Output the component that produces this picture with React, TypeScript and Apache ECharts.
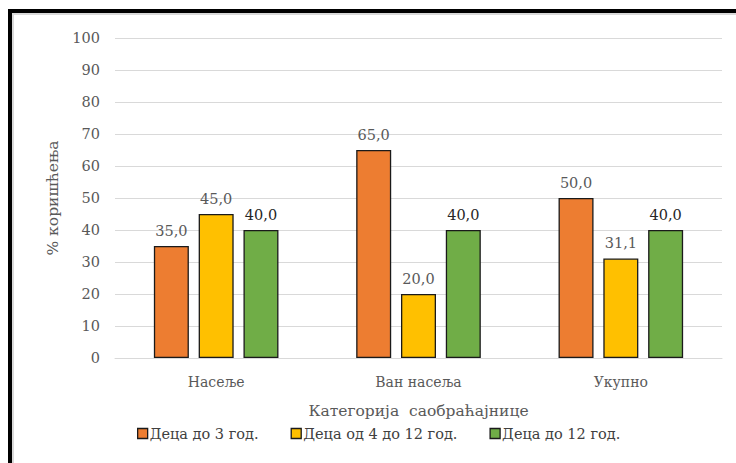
import React, { useEffect, useRef } from "react";
import * as echarts from "echarts";

const categories = ["Насеље", "Ван насеља", "Укупно"];
const seriesNames = ["Деца до 3 год.", "Деца од 4 до 12 год.", "Деца до 12 год."];
const under3 = [35.0, 65.0, 50.0];
const from4to12 = [45.0, 20.0, 31.1];
const upTo12 = [40.0, 40.0, 40.0];
const colors = ["#ED7D31", "#FFC000", "#70AD47"];
const labelColors = ["#595959", "#595959", "#262626"];

const FONT = "'DejaVu Serif', serif";

export default function App() {
  const ref = useRef<HTMLDivElement>(null);
  useEffect(() => {
    if (!ref.current) return;
    const chart = echarts.init(ref.current, undefined, { renderer: "svg" });
    const data = [under3, from4to12, upTo12];
    chart.setOption({
      animation: false,
      backgroundColor: "#ffffff",
      textStyle: { fontFamily: FONT },
      grid: { left: 115, right: 14, top: 38, bottom: 105 },
      legend: {
        bottom: 17,
        left: 132,
        itemWidth: 10,
        itemHeight: 10,
        itemGap: 32,
        icon: "rect",
        itemStyle: { borderColor: "#1a1a1a", borderWidth: 1.3 },
        textStyle: { fontFamily: FONT, fontSize: 14.5, color: "#404040", padding: [0, 0, 0, -3] },
        data: seriesNames,
      },
      xAxis: {
        type: "category",
        data: categories,
        name: "Категорија  саобраћајнице",
        nameLocation: "middle",
        nameGap: 45,
        nameTextStyle: { fontFamily: FONT, fontSize: 15.5, color: "#595959" },
        axisLine: { lineStyle: { color: "#D9D9D9" } },
        axisTick: { show: false },
        axisLabel: { fontFamily: FONT, fontSize: 14, color: "#595959", margin: 17 },
      },
      yAxis: {
        type: "value",
        min: 0,
        max: 100,
        interval: 10,
        name: "% коришћења",
        nameLocation: "middle",
        nameGap: 52,
        nameRotate: 90,
        nameTextStyle: { fontFamily: FONT, fontSize: 15.5, color: "#595959" },
        axisLine: { show: false },
        axisTick: { show: false },
        splitLine: { lineStyle: { color: "#D9D9D9" } },
        axisLabel: { fontFamily: FONT, fontSize: 14.5, color: "#595959", margin: 15 },
      },
      series: seriesNames.map((name, i) => ({
        name,
        type: "bar",
        data: data[i],
        barWidth: 35,
        barGap: "28%",
        itemStyle: { color: colors[i], borderColor: "#1a1a1a", borderWidth: 1.3 },
        label: {
          show: true,
          position: "top",
          distance: 8,
          fontFamily: FONT,
          fontSize: 14.5,
          color: labelColors[i],
          formatter: (p: any) => p.value.toFixed(1).replace(".", ","),
        },
      })),
      graphic: [
        { type: "rect", shape: { x: 8, y: 9, width: 4, height: 463 }, style: { fill: "#000" }, silent: true },
        { type: "rect", shape: { x: 8, y: 9, width: 736, height: 4 }, style: { fill: "#000" }, silent: true },
        { type: "rect", shape: { x: 12, y: 13, width: 2, height: 463 }, style: { fill: "#D9D9D9" }, silent: true },
        { type: "rect", shape: { x: 12, y: 13, width: 736, height: 2 }, style: { fill: "#D9D9D9" }, silent: true },
      ],
    });
    return () => chart.dispose();
  }, []);
  return <div ref={ref} style={{ width: 736, height: 463, position: "fixed", left: 0, top: 0 }} />;
}
